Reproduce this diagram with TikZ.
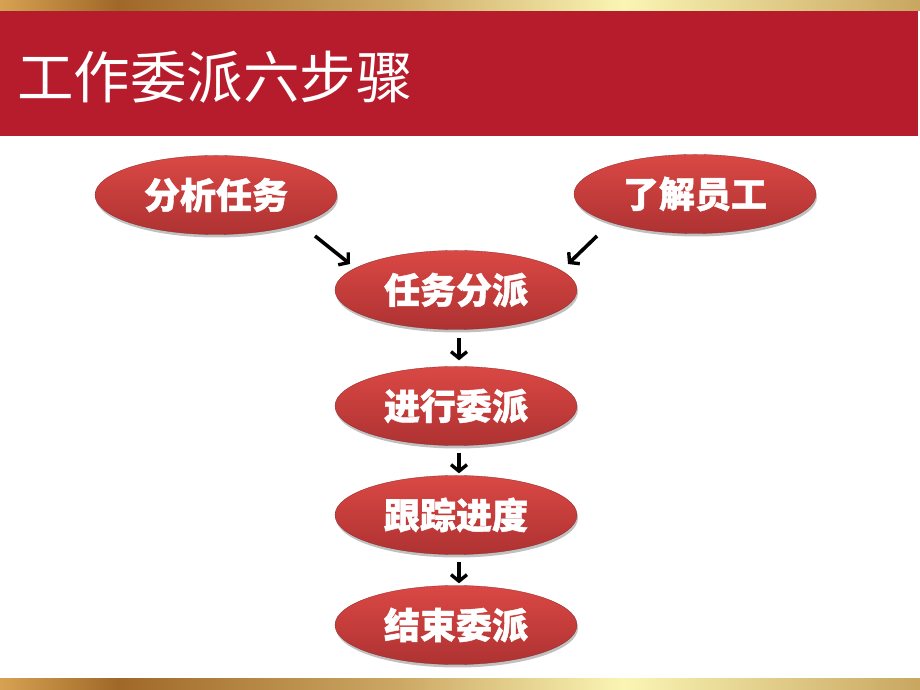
\documentclass[tikz,border=0pt]{standalone}
\usepackage{fontspec}
\newfontfamily\cjk{Noto Sans CJK SC}[BoldFeatures={FakeBold=1.2}]
\usetikzlibrary{shapes.geometric,arrows.meta,shadows}
\definecolor{bandred}{RGB}{183,28,44}
\definecolor{elltop}{RGB}{218,72,68}
\definecolor{ellbot}{RGB}{174,50,50}
\definecolor{gA}{RGB}{214,162,82}
\definecolor{gB}{RGB}{160,104,40}
\definecolor{gC}{RGB}{204,168,100}
\definecolor{gD}{RGB}{250,245,180}
\definecolor{gE}{RGB}{200,166,96}
\pgfdeclarehorizontalshading{goldband}{100bp}{color(0bp)=(gA); color(25bp)=(gA); color(31.4bp)=(gB); color(46.7bp)=(gC); color(58.9bp)=(gD); color(75bp)=(gE); color(100bp)=(gE)}
\tikzset{
  stepell/.style={ellipse, minimum width=242pt, minimum height=79pt, inner sep=0pt,
    top color=elltop, bottom color=ellbot, draw=ellbot!80!black, line width=0.3pt,
    drop shadow={shadow xshift=1pt, shadow yshift=-3pt, opacity=0.35, fill=black!70},
    text=white, font=\cjk\bfseries\fontsize{36}{36}\selectfont},
  flowarrow/.style={line width=3.6pt, -{Straight Barb[length=6.5pt,width=16pt,line width=3.4pt]}}
}
\begin{document}
\begin{tikzpicture}[x=1pt,y=1pt]
\useasboundingbox (0,0) rectangle (920,690);
\fill[white] (0,0) rectangle (920,690);
% bands
\shade[shading=goldband] (0,679) rectangle (920,690);
\shade[shading=goldband] (0,0) rectangle (920,11);
\fill[bandred] (0,554) rectangle (918,679);
\node[anchor=west, inner sep=0pt, text=white, font=\cjk\fontsize{56.5}{56.5}\selectfont] (title) at (17,613) {工作委派六步骤};
% nodes
\node[stepell] (n1) at (216,495) {分析任务};
\node[stepell] (n2) at (695,496) {了解员工};
\node[stepell] (n3) at (456,400) {任务分派};
\node[stepell] (n4) at (456,284) {进行委派};
\node[stepell] (n5) at (456,175) {跟踪进度};
\node[stepell] (n6) at (456,65) {结束委派};
% connectors
\coordinate (d1s) at (315,454);
\coordinate (d1e) at (350,426);
\coordinate (d2s) at (597,454);
\coordinate (d2e) at (568,426);
\draw[flowarrow] (d1s) -- (d1e);
\draw[flowarrow] (d2s) -- (d2e);
\draw[flowarrow, shorten <=8pt, shorten >=6pt] ([xshift=3pt]n3.south) -- ([xshift=3pt]n4.north);
\draw[flowarrow, shorten <=7pt, shorten >=2pt] ([xshift=3pt]n4.south) -- ([xshift=3pt]n5.north);
\draw[flowarrow, shorten <=7pt, shorten >=2pt] ([xshift=3pt]n5.south) -- ([xshift=3pt]n6.north);
\end{tikzpicture}
\end{document}
